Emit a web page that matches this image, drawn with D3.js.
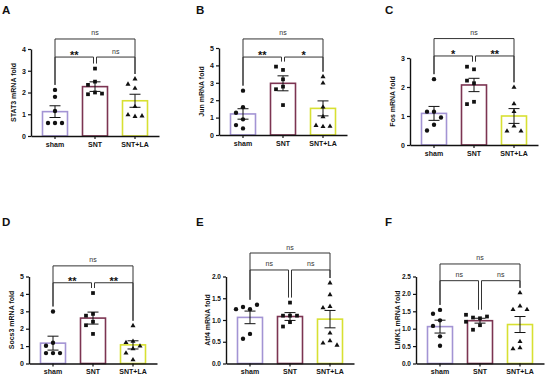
<!DOCTYPE html>
<html>
<head>
<meta charset="utf-8">
<script src="https://cdn.jsdelivr.net/npm/d3@7"></script>
<style>
body{margin:0;background:#fff}
svg{display:block}
text{font-family:"Liberation Sans",Arial,sans-serif}
</style>
</head>
<body>
<svg id="chart" width="550" height="378"></svg>
<script>
const groups = ['sham','SNT','SNT+LA']

// values (fold change), one list per group
const stat3Points = [[2.12,1.8,1.15,0.6,0.6,0.6],[3.1,2.5,2.35,2.0,1.92,1.95],[2.62,2.38,2.19,1.35,0.9,0.97,0.92]]
const stat3Mean = [1.12,2.27,1.62]
const stat3Sem = [0.27,0.22,0.3]
const stat3Sig = ['ns','**','ns']

const junPoints = [[2.55,1.6,1.28,0.9,0.57,0.38],[3.74,3.93,3.2,2.78,2.63,1.72],[3.35,2.98,1.6,1.05,0.48,0.55,0.5]]
const junMean = [1.21,2.97,1.53]
const junSem = [0.3,0.43,0.43]
const junSig = ['ns','**','*']

const fosPoints = [[2.27,1.15,1.15,0.95,0.7,0.5],[2.61,2.7,2.13,2.22,1.49,1.41],[1.99,1.42,1.15,0.65,0.48,0.48]]
const fosMean = [1.09,2.07,1.0]
const fosSem = [0.24,0.23,0.255]
const fosSig = ['ns','*','**']

const socs3Points = [[2.99,1.19,1.02,0.6,0.6,0.6],[4.05,2.85,2.75,2.4,2.2,1.7],[2.17,1.27,1.2,1.0,0.85,0.6,0.21]]
const socs3Mean = [1.17,2.61,1.07]
const socs3Sem = [0.4,0.345,0.235]
const socs3Sig = ['ns','**','**']

const atf4Points = [[1.25,1.3,1.35,1.25,0.68,0.57],[1.4,1.1,1.1,1.1,0.95,0.85],[1.85,1.58,1.31,1.28,0.7,0.52,0.47,0.42]]
const atf4Mean = [1.06,1.08,1.02]
const atf4Sem = [0.145,0.09,0.2]
const atf4Sig = ['ns','ns','ns']

const limk1Points = [[1.54,1.43,1.24,1.08,0.78,0.51],[1.3,1.32,1.35,1.4,1.2,1.1,0.97],[2.03,1.65,1.55,1.55,0.63,0.45,0.42]]
const limk1Mean = [1.06,1.23,1.12]
const limk1Sem = [0.185,0.07,0.23]
const limk1Sig = ['ns','ns','ns']

const colors = ['#a394d4','#7c3452','#d8e032']
const symbols = [d3.symbolCircle, d3.symbolSquare, d3.symbolTriangle]

const panels = [
  {letter:'A', title:'STAT3 mRNA fold', pts:stat3Points, mean:stat3Mean, sem:stat3Sem, sig:stat3Sig,
   ymax:4, step:1, fmt:'d', x0:31, yTop:49, yBot:136, lx:2, ly:14, brTop:4.46, brIn:3.63},
  {letter:'B', title:'Jun mRNA fold', pts:junPoints, mean:junMean, sem:junSem, sig:junSig,
   ymax:5, step:1, fmt:'d', x0:219, yTop:48, yBot:135, lx:196, ly:14, brTop:5.52, brIn:4.48},
  {letter:'C', title:'Fos mRNA fold', pts:fosPoints, mean:fosMean, sem:fosSem, sig:fosSig,
   ymax:3, step:1, fmt:'d', x0:410, yTop:58, yBot:145, lx:385, ly:14, brTop:3.67, brIn:3.07},
  {letter:'D', title:'Socs3 mRNA fold', pts:socs3Points, mean:socs3Mean, sem:socs3Sem, sig:socs3Sig,
   ymax:5, step:1, fmt:'d', x0:29, yTop:276.5, yBot:363.5, lx:2, ly:226, brTop:5.61, brIn:4.64},
  {letter:'E', title:'Atf4 mRNA fold', pts:atf4Points, mean:atf4Mean, sem:atf4Sem, sig:atf4Sig,
   ymax:2, step:0.5, fmt:'.1f', x0:226, yTop:276.5, yBot:363.5, lx:196, ly:226, brTop:2.54, brIn:2.15},
  {letter:'F', title:'LIMK1 mRNA fold', pts:limk1Points, mean:limk1Mean, sem:limk1Sem, sig:limk1Sig,
   ymax:2.5, step:0.5, fmt:'.1f', x0:416, yTop:276.5, yBot:363.5, lx:385, ly:226, brTop:2.86, brIn:2.38}
]

const svg = d3.select('#chart')

// spread overlapping points sideways, like the prism scatter
function swarm(vals, y) {
  const placed = []
  return vals.map(v => {
    const py = y(v)
    let dx = 0
    for (const off of [0,-7,7,-14,14,-21,21]) {
      if (placed.every(p => Math.hypot(p.dx - off, p.py - py) >= 6)) { dx = off; break }
    }
    placed.push({dx, py})
    return {v, dx}
  })
}

let drawPanel = (p) => {
  const g = svg.append('g')
  const x = d3.scaleBand().domain(groups)
    .range([p.x0, p.x0 + 128]).paddingInner(0.375).paddingOuter(0.2875)
  const y = d3.scaleLinear().domain([0, p.ymax]).range([p.yBot, p.yTop])
  const cx = d => x(d) + x.bandwidth()/2
  const decimal = p.fmt != 'd'

  // bars
  g.selectAll('rect.bar').data(groups).enter().append('rect')
    .attr('x', d => x(d)).attr('width', x.bandwidth())
    .attr('y', (d,i) => y(p.mean[i])).attr('height', (d,i) => p.yBot - y(p.mean[i]))
    .attr('fill','#fff').attr('stroke', (d,i) => colors[i]).attr('stroke-width',1.6)

  // points
  groups.forEach((grp,i) => {
    g.selectAll(null).data(swarm(p.pts[i], y)).enter().append('path')
      .attr('d', d3.symbol().type(symbols[i]).size(i == 2 ? 11 : i == 1 ? 14 : 15))
      .attr('transform', d => `translate(${cx(grp) + d.dx},${y(d.v)})`)
      .attr('fill','#111')
  })

  // error bars (mean +- sem)
  groups.forEach((grp,i) => {
    const lo = y(p.mean[i] - p.sem[i]), hi = y(p.mean[i] + p.sem[i])
    const eg = g.append('g').attr('stroke','#111').attr('stroke-width',1)
    eg.append('line').attr('x1',cx(grp)).attr('x2',cx(grp)).attr('y1',lo).attr('y2',hi)
    eg.append('line').attr('x1',cx(grp)-5.5).attr('x2',cx(grp)+5.5).attr('y1',lo).attr('y2',lo)
    eg.append('line').attr('x1',cx(grp)-5.5).attr('x2',cx(grp)+5.5).attr('y1',hi).attr('y2',hi)
  })

  // axes
  const xa = g.append('g').attr('transform',`translate(0,${p.yBot})`)
    .call(d3.axisBottom(x).tickSize(3).tickSizeOuter(0).tickPadding(3))
  const ya = g.append('g').attr('transform',`translate(${p.x0},0)`)
    .call(d3.axisLeft(y).tickValues(d3.range(0, p.ymax + p.step/2, p.step))
      .tickFormat(d3.format(p.fmt)).tickSize(3).tickSizeOuter(0).tickPadding(2))
  ;[xa, ya].forEach(a => {
    a.select('.domain').attr('stroke','#111').attr('stroke-width',1.4)
    a.selectAll('.tick line').attr('stroke','#111').attr('stroke-width',1.2)
    a.selectAll('text').attr('font-size',7).attr('font-weight','bold').attr('fill','#111')
      .attr('font-family','"Liberation Sans",Arial,sans-serif')
  })
  if (decimal) ya.selectAll('text').attr('font-size',6.5)

  // y title
  g.append('text')
    .attr('transform',`translate(${p.x0 - (decimal ? 18.5 : 17)},${(p.yTop + p.yBot)/2}) rotate(-90)`)
    .attr('text-anchor','middle').attr('dy','0.35em')
    .attr('font-size',7).attr('font-weight','bold').attr('fill','#111')
    .text(p.title)

  // panel letter
  g.append('text').attr('x',p.lx).attr('y',p.ly)
    .attr('font-size',11.5).attr('font-weight','bold').attr('fill','#111')
    .text(p.letter)

  // significance brackets
  const legEnd = i => Math.min(y(d3.max(p.pts[i])) - 5, p.yBot)
  const bracket = (xa1, xa2, yv, ia, ib, label) => {
    const by = y(yv)
    g.append('path')
      .attr('d', `M${xa1},${Math.max(legEnd(ia), by)}V${by}H${xa2}V${Math.max(legEnd(ib), by)}`)
      .attr('fill','none').attr('stroke','#333').attr('stroke-width',1)
    const t = g.append('text').attr('x',(xa1 + xa2)/2).attr('text-anchor','middle').attr('fill','#333')
    if (label == 'ns') {
      t.attr('y', by - 3.5).attr('font-size',7).text('ns')
    } else {
      t.attr('y', by + 2).attr('font-size',11).attr('font-weight','bold').attr('fill','#111').text(label)
    }
  }
  bracket(cx(groups[0]), cx(groups[2]), p.brTop, 0, 2, p.sig[0])
  bracket(cx(groups[0]), cx(groups[1]) - 1.5, p.brIn, 0, 1, p.sig[1])
  bracket(cx(groups[1]) + 1.5, cx(groups[2]), p.brIn, 1, 2, p.sig[2])
}

panels.forEach(p => drawPanel(p))
</script>
</body>
</html>
